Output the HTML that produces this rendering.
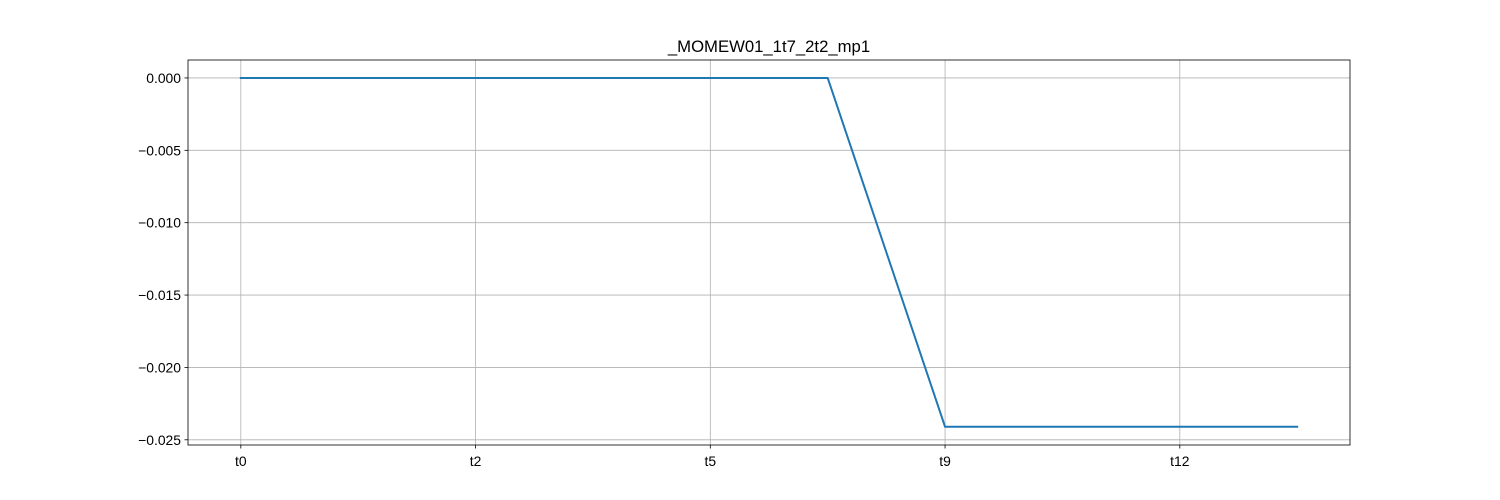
<!DOCTYPE html>
<html><head><meta charset="utf-8"><style>
html,body{margin:0;padding:0;background:#fff;}
svg{display:block;font-family:"Liberation Sans","DejaVu Sans",sans-serif;}
</style></head><body>
<svg id="chart" width="1500" height="500"></svg>
<script>
const categories = ["t0","t1","t2","t4","t5","t7","t9","t10","t12","t14"];
const values = [0,0,0,0,0,0,-0.0241,-0.0241,-0.0241,-0.0241];
const xTickIdx = [0,2,4,6,8];
const yTicks = [0,-0.005,-0.01,-0.015,-0.02,-0.025];
const yTickLabels = ["0.000","\u22120.005","\u22120.010","\u22120.015","\u22120.020","\u22120.025"];

const L=188,R=1350,T=60,B=445;
const xMin=-0.45,xMax=9.45,yMin=-0.02536,yMax=0.00124;
const xs=i=>L+(i-xMin)/(xMax-xMin)*(R-L);
const ys=v=>B-(v-yMin)/(yMax-yMin)*(B-T);
const NS="http://www.w3.org/2000/svg";
const svg=document.getElementById('chart');
function mk(tag,attrs,parent){const e=document.createElementNS(NS,tag);for(const k in attrs)e.setAttribute(k,attrs[k]);(parent||svg).appendChild(e);return e;}

const grid=mk('g',{});


xTickIdx.forEach(i=>{
  const x=xs(i);
  const g=mk('line',{x1:x,x2:x,y1:T,y2:B,stroke:'#b0b0b0','stroke-width':0.8},grid);
  
  
  const t=mk('line',{x1:x,x2:x,y1:B,y2:B+3.5,stroke:'#000','stroke-width':0.8});
  
  
  const lb=mk('text',{x:x,y:B+21,'text-anchor':'middle','font-size':'13.9px',fill:'#000'});
  lb.textContent=categories[i];
  
  
});
yTicks.forEach((v,k)=>{
  const y=ys(v);
  const g=mk('line',{x1:L,x2:R,y1:y,y2:y,stroke:'#b0b0b0','stroke-width':0.8},grid);
  
  
  const t=mk('line',{x1:L-3.5,x2:L,y1:y,y2:y,stroke:'#000','stroke-width':0.8});
  
  
  const lb=mk('text',{x:L-7,y:y+5,'text-anchor':'end','font-size':'13.9px',fill:'#000'});
  lb.textContent=yTickLabels[k];
  
  
});
const pts=values.map((v,i)=>xs(i)+','+ys(v)).join(' ');
const line=mk('polyline',{points:pts,fill:'none',stroke:'#1f77b4','stroke-width':2,'stroke-linejoin':'round','stroke-linecap':'square'});


const frame=mk('rect',{x:L,y:T,width:R-L,height:B-T,fill:'none',stroke:'#000','stroke-width':0.8});


const title=mk('text',{x:(L+R)/2,y:52,'text-anchor':'middle','font-size':'16.7px',fill:'#000'});
title.textContent='_MOMEW01_1t7_2t2_mp1';


</script>
</body></html>
